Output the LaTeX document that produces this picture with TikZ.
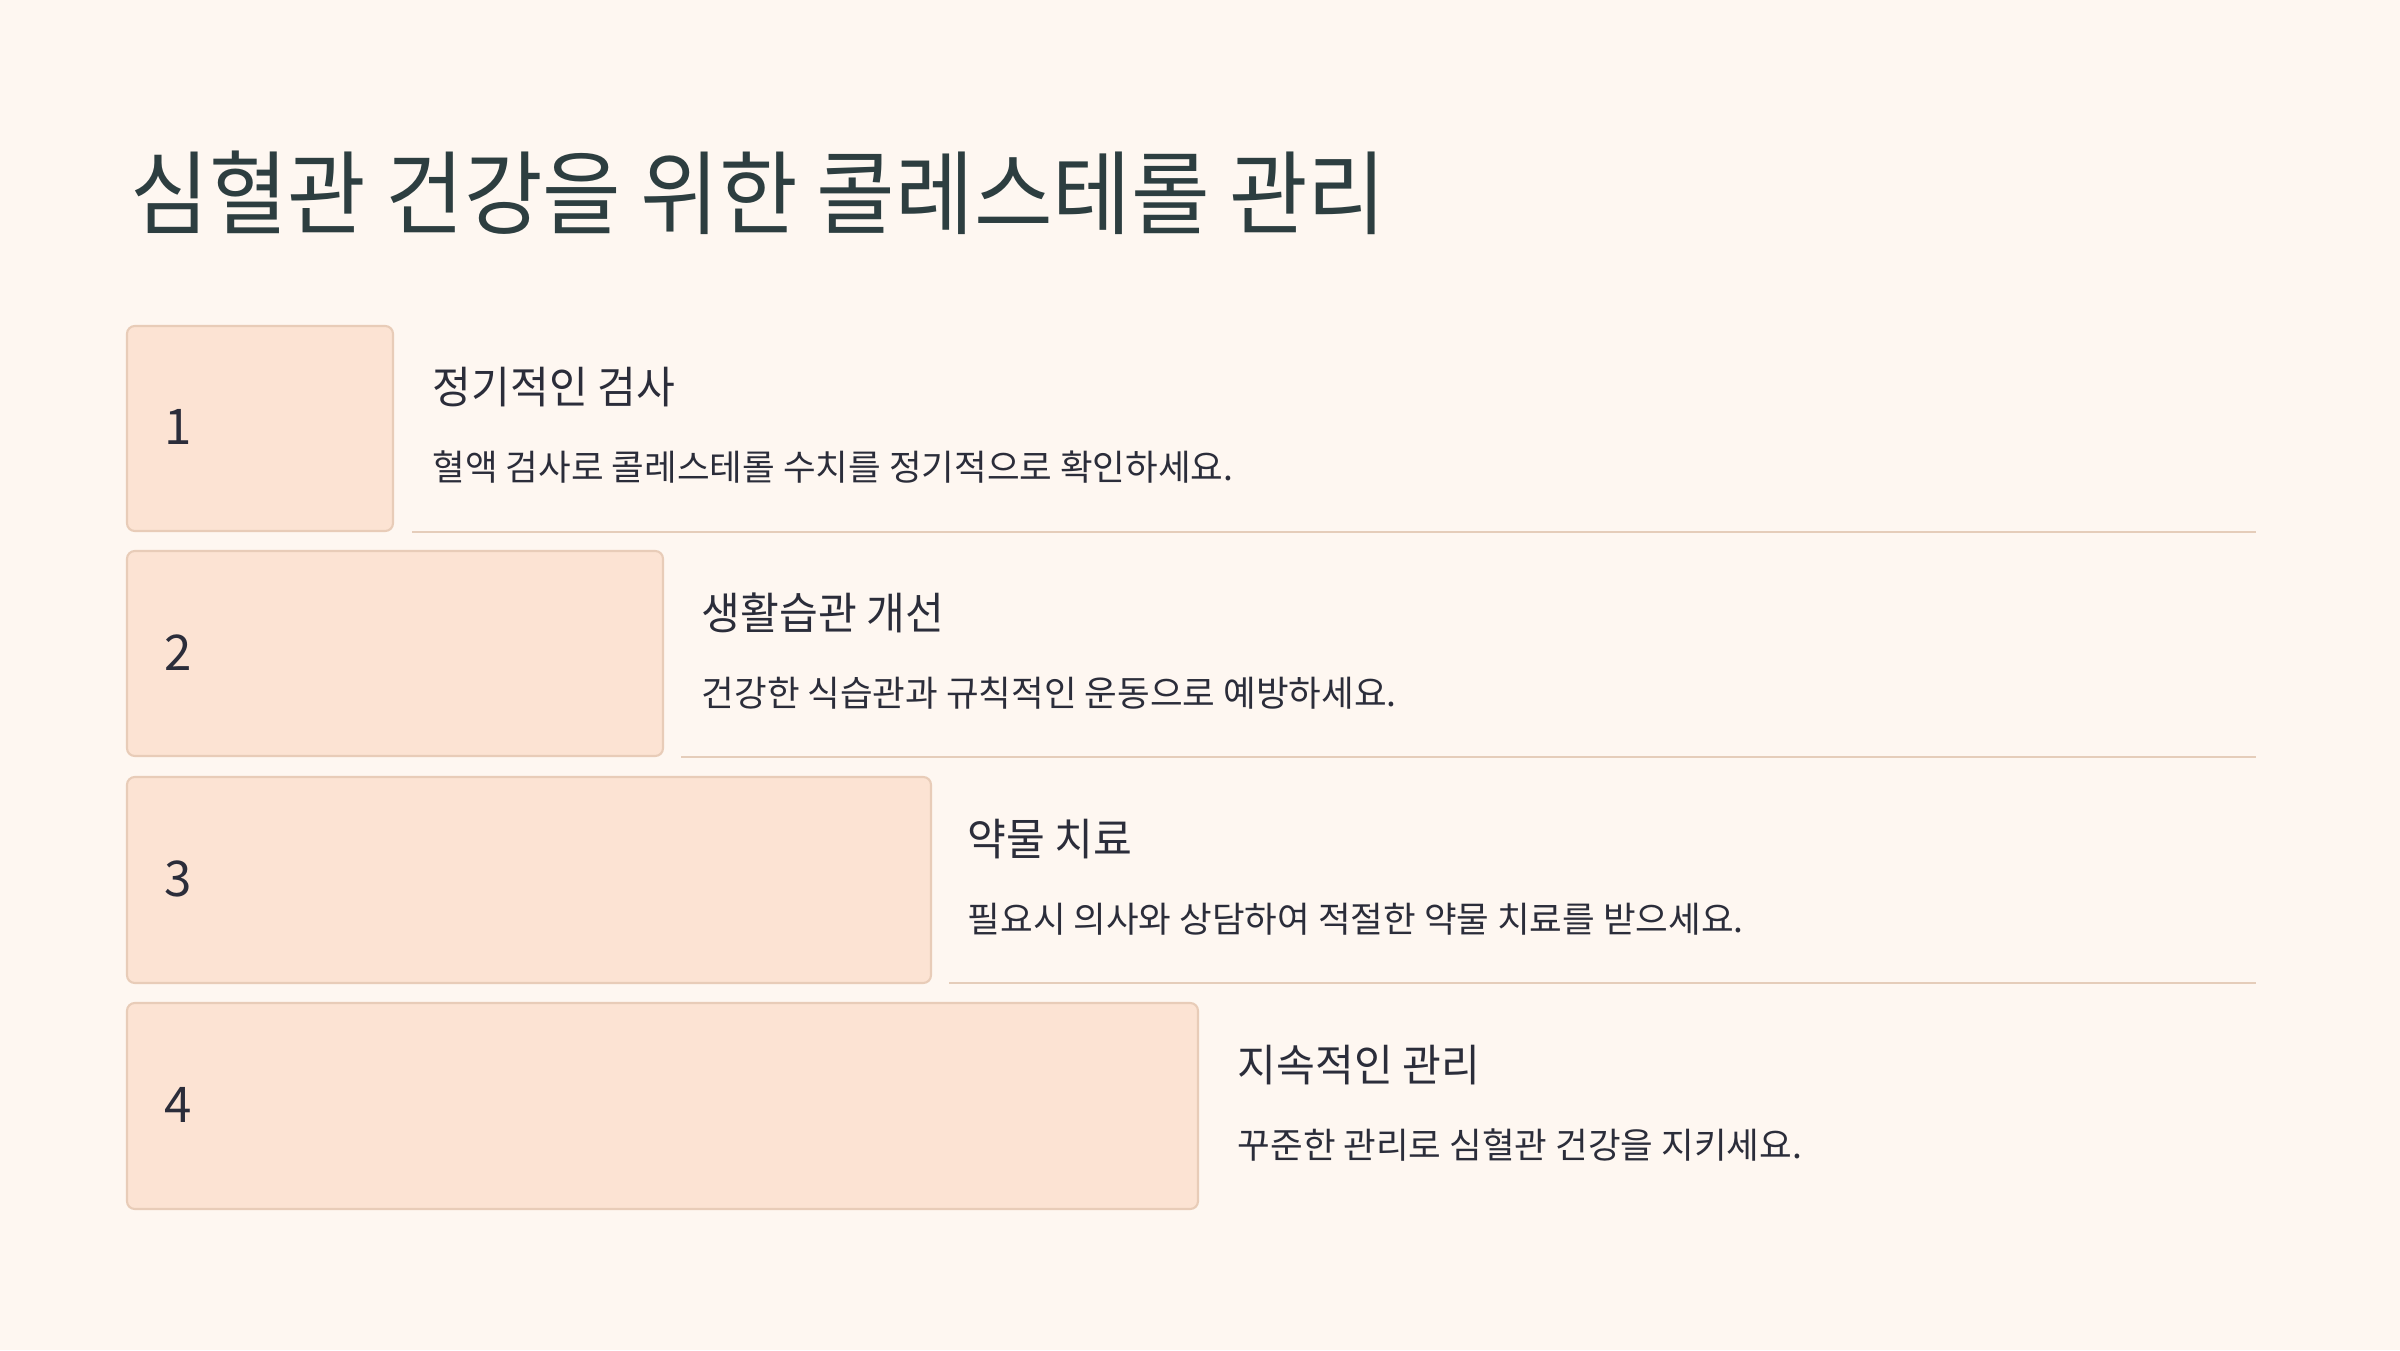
\documentclass[tikz,border=0pt]{standalone}
\usepackage{fontspec}
\setmainfont{Noto Sans CJK KR}
\newfontfamily\titlefont[FakeStretch=0.935]{Noto Sans CJK KR}
\newfontfamily\headfont[FakeStretch=0.96]{Noto Sans CJK KR}
\definecolor{bg}{RGB}{254,247,241}
\definecolor{boxfill}{RGB}{252,227,211}
\definecolor{boxline}{RGB}{232,204,184}
\definecolor{sepline}{RGB}{229,205,186}
\definecolor{titlecol}{RGB}{45,62,64}
\definecolor{textcol}{RGB}{43,45,58}
\tikzset{
  stepbox/.style={draw=boxline, line width=0.6pt, fill=boxfill, rounded corners=2.2pt},
  sepln/.style={draw=sepline, line width=0.6pt},
  numtxt/.style={anchor=base west, inner sep=0, text=textcol, font=\fontsize{14}{17}\selectfont},
  headtxt/.style={anchor=base west, inner sep=0, text=textcol, font=\headfont\fontsize{12.5}{15}\selectfont},
  bodytxt/.style={anchor=base west, inner sep=0, text=textcol, font=\fontsize{10.1}{12}\selectfont},
  titletxt/.style={anchor=base west, inner sep=0, text=titlecol, font=\titlefont\fontsize{26}{30}\selectfont}
}
\begin{document}
\begin{tikzpicture}[x=0.1mm,y=-0.1mm]
\fill[bg] (0,0) rectangle (2400,1350);
\useasboundingbox (0,0) rectangle (2400,1350);
\node[titletxt] (title) at (130,228) {심혈관 건강을 위한 콜레스테롤 관리};
% boxes
\draw[stepbox] (127,326) rectangle (393,531);
\draw[stepbox] (127,551) rectangle (663,756);
\draw[stepbox] (127,777) rectangle (931,983);
\draw[stepbox] (127,1003) rectangle (1198,1209);
% numbers
\node[numtxt] (n1) at (164,444) {1};
\node[numtxt] (n2) at (164,670) {2};
\node[numtxt] (n3) at (164,896) {3};
\node[numtxt] (n4) at (164,1122) {4};
% headings
\node[headtxt] (h1) at (432,403) {정기적인 검사};
\node[bodytxt] (b1) at (432,480) {혈액 검사로 콜레스테롤 수치를 정기적으로 확인하세요.};
\node[headtxt] (h2) at (701,629) {생활습관 개선};
\node[bodytxt] (b2) at (701,706) {건강한 식습관과 규칙적인 운동으로 예방하세요.};
\node[headtxt] (h3) at (967,855) {약물 치료};
\node[bodytxt] (b3) at (967,932) {필요시 의사와 상담하여 적절한 약물 치료를 받으세요.};
\node[headtxt] (h4) at (1237,1081) {지속적인 관리};
\node[bodytxt] (b4) at (1237,1158) {꾸준한 관리로 심혈관 건강을 지키세요.};
% separators
\draw[sepln] (412,532) -- (2256,532);
\draw[sepln] (681,757) -- (2256,757);
\draw[sepln] (949,983) -- (2256,983);
\end{tikzpicture}
\end{document}
